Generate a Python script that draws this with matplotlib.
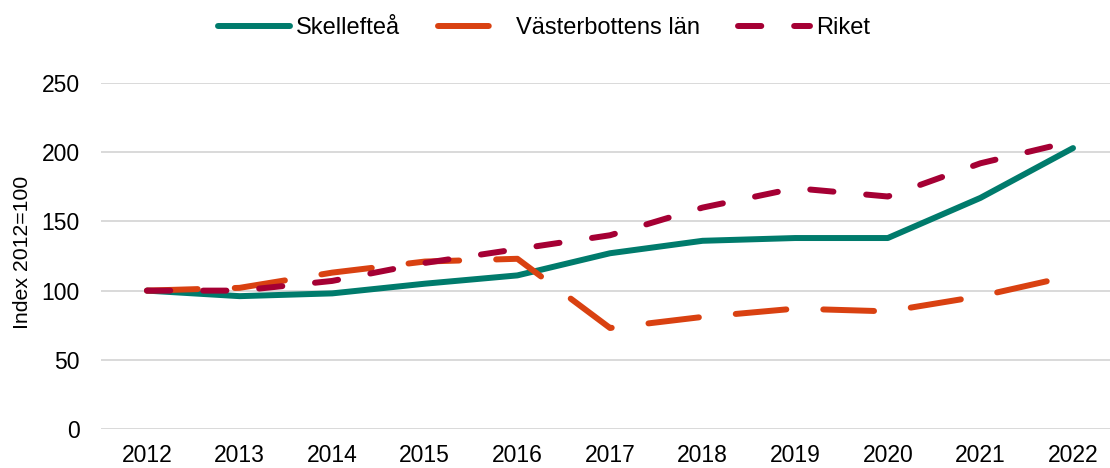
import matplotlib
matplotlib.use('Agg')
import matplotlib.pyplot as plt

# Data (index 2012=100)
years = ['2012', '2013', '2014', '2015', '2016', '2017', '2018', '2019', '2020', '2021', '2022']
skelleftea = [100, 96, 98, 105, 111, 127, 136, 138, 138, 167, 203]
vasterbotten = [100, 102, 113, 121, 123, 73, 81, 87, 85, 96, 111]
riket = [100, 100, 107, 120, 130, 140, 160, 174, 168, 192, 208]

series_names = ['Skellefteå', 'Västerbottens län', 'Riket']
series_colors = ['#007B6C', '#D94111', '#A50034']

plt.rcParams['font.family'] = ['Liberation Sans', 'DejaVu Sans']

fig = plt.figure(figsize=(11.10, 4.68), dpi=100)
ax = fig.add_axes([0.0907, 0.0833, 0.9177, 0.7393])

x = range(len(years))
lw = 4.3
ax.plot(x, skelleftea, color=series_colors[0], lw=lw, solid_capstyle='round',
        solid_joinstyle='round', label=series_names[0], zorder=3)
ax.plot(x, vasterbotten, color=series_colors[1], lw=lw, dashes=(8.5, 6.2),
        dash_capstyle='round', dash_joinstyle='round', label=series_names[1], zorder=4)
ax.plot(x, riket, color=series_colors[2], lw=lw, dashes=(3.9, 5.5),
        dash_capstyle='round', dash_joinstyle='round', label=series_names[2], zorder=5)

ax.set_xlim(-0.5, len(years) - 0.5)
ax.set_ylim(0, 250)
ax.set_yticks([0, 50, 100, 150, 200, 250])
ax.set_xticks(list(x))
ax.set_xticklabels(years)
ax.tick_params(axis='both', length=0, labelsize=16.5, colors='#000000')
ax.tick_params(axis='x', pad=11)
ax.tick_params(axis='y', pad=15)
ax.grid(axis='y', color='#D9D9D9', lw=1.4)
ax.set_axisbelow(True)
for s in ax.spines.values():
    s.set_visible(False)

fig.text(0.020, 0.4615, 'Index 2012=100', rotation=90, fontsize=15.3,
         ha='center', va='center')

fig.legend(loc='center', bbox_to_anchor=(544 / 1110, 1 - 28 / 468), ncol=3,
           frameon=False, fontsize=17, handlelength=3.05, handletextpad=0.25,
           columnspacing=1.6, borderaxespad=0)

fig.savefig('out.png', dpi=100)
